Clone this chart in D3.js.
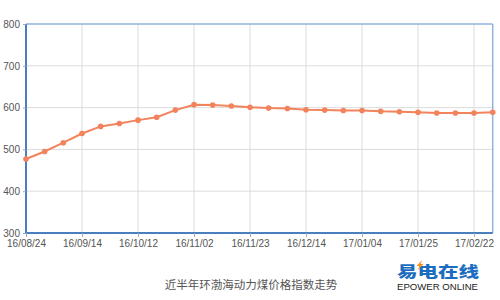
<!DOCTYPE html>
<html><head><meta charset="utf-8">
<script src="https://cdn.jsdelivr.net/npm/d3@7"></script>
<style>
body{margin:0;background:#fff;}
svg{display:block;}
</style></head>
<body>
<svg id="c" width="500" height="300"></svg>
<script>
const dates = ["16/08/24","16/08/31","16/09/07","16/09/14","16/09/21","16/09/28","16/10/12","16/10/19","16/10/26","16/11/02","16/11/09","16/11/16","16/11/23","16/11/30","16/12/07","16/12/14","16/12/21","16/12/28","17/01/04","17/01/11","17/01/18","17/01/25","17/02/08","17/02/15","17/02/22","17/03/01"];
const values = [477,495,516,538,555,562,570,577,594,607,606,604,601,599,598,595,594,593,593,591,590,589,587,587,587,589];
const tickLabels = ["16/08/24","16/09/14","16/10/12","16/11/02","16/11/23","16/12/14","17/01/04","17/01/25","17/02/22"];
const yTicks = [300,400,500,600,700,800];
const title = "近半年环渤海动力煤价格指数走势";

const svg = d3.select("#c");
const L=26, R=492.7, T=24, B=233;
const x = d3.scalePoint().domain(dates).range([L,R]);
const y = d3.scaleLinear().domain([300,800]).range([B,T]);

// grid
const g = svg.append("g");
g.selectAll(".hg").data(yTicks.filter(v=>v>300&&v<800)).join("line")
  .attr("x1",L).attr("x2",R).attr("y1",d=>y(d)).attr("y2",d=>y(d))
  .attr("stroke","#dcdcdc").attr("stroke-width",1);
g.selectAll(".vg").data(tickLabels.slice(1)).join("line")
  .attr("x1",d=>x(d)).attr("x2",d=>x(d)).attr("y1",T).attr("y2",B)
  .attr("stroke","#dcdcdc").attr("stroke-width",1);

// frame top/right
svg.append("line").attr("x1",L).attr("x2",R).attr("y1",T).attr("y2",T).attr("stroke","#8fb3de").attr("stroke-width",1.5);
svg.append("line").attr("x1",R).attr("x2",R).attr("y1",T).attr("y2",B).attr("stroke","#8fb3de").attr("stroke-width",1.5);

// axes
const yAxis = d3.axisLeft(y).tickValues(yTicks).tickSize(3).tickPadding(3);
const ya = svg.append("g").attr("transform",`translate(${L},0)`).call(yAxis);
const xAxis = d3.axisBottom(x).tickValues(tickLabels).tickSize(4).tickPadding(3);
const xa = svg.append("g").attr("transform",`translate(0,${B})`).call(xAxis);
[ya,xa].forEach(a=>{
  a.select(".domain").attr("stroke","#4a7fbf").attr("stroke-width",2);
  a.selectAll(".tick line").attr("stroke","#9aa9bb");
  a.selectAll("text").attr("fill","#555").style("font-family","Liberation Sans, Arial, sans-serif").style("font-size","10px");
});
xa.select(".domain").attr("d",`M${L},0H${R}`);
ya.select(".domain").attr("d",`M0,${B}V${T}`);

// line
const line = d3.line().x((d,i)=>x(dates[i])).y(d=>y(d));
svg.append("path").datum(values).attr("d",line).attr("fill","none")
  .attr("stroke","#f3835d").attr("stroke-width",2);
svg.selectAll(".pt").data(values).join("circle")
  .attr("cx",(d,i)=>x(dates[i])).attr("cy",d=>y(d)).attr("r",2.8).attr("fill","#f3835d");

// title
svg.append("text").attr("x",251).attr("y",289).attr("text-anchor","middle")
  .attr("fill","#555").style("font-family","Noto Sans CJK SC, sans-serif").style("font-size","11.5px").text(title);

// logo
svg.append("text").attr("x",397).attr("y",277).attr("fill","#1c6dbf")
  .style("font-family","Noto Sans CJK SC, sans-serif").style("font-weight","900").style("font-size","14.5px")
  .attr("textLength",82).attr("lengthAdjust","spacingAndGlyphs").text("易电在线");
svg.append("path").attr("d","M422,260 L416.5,266 L419.5,266 L417.5,270.5 L423.5,264 L420.5,264 Z").attr("fill","#f29020");
svg.append("text").attr("x",397).attr("y",290).attr("fill","#222")
  .style("font-family","Liberation Sans, Arial, sans-serif").style("font-size","9px")
  .attr("textLength",81).attr("lengthAdjust","spacingAndGlyphs").text("EPOWER ONLINE");
</script>
</body></html>
